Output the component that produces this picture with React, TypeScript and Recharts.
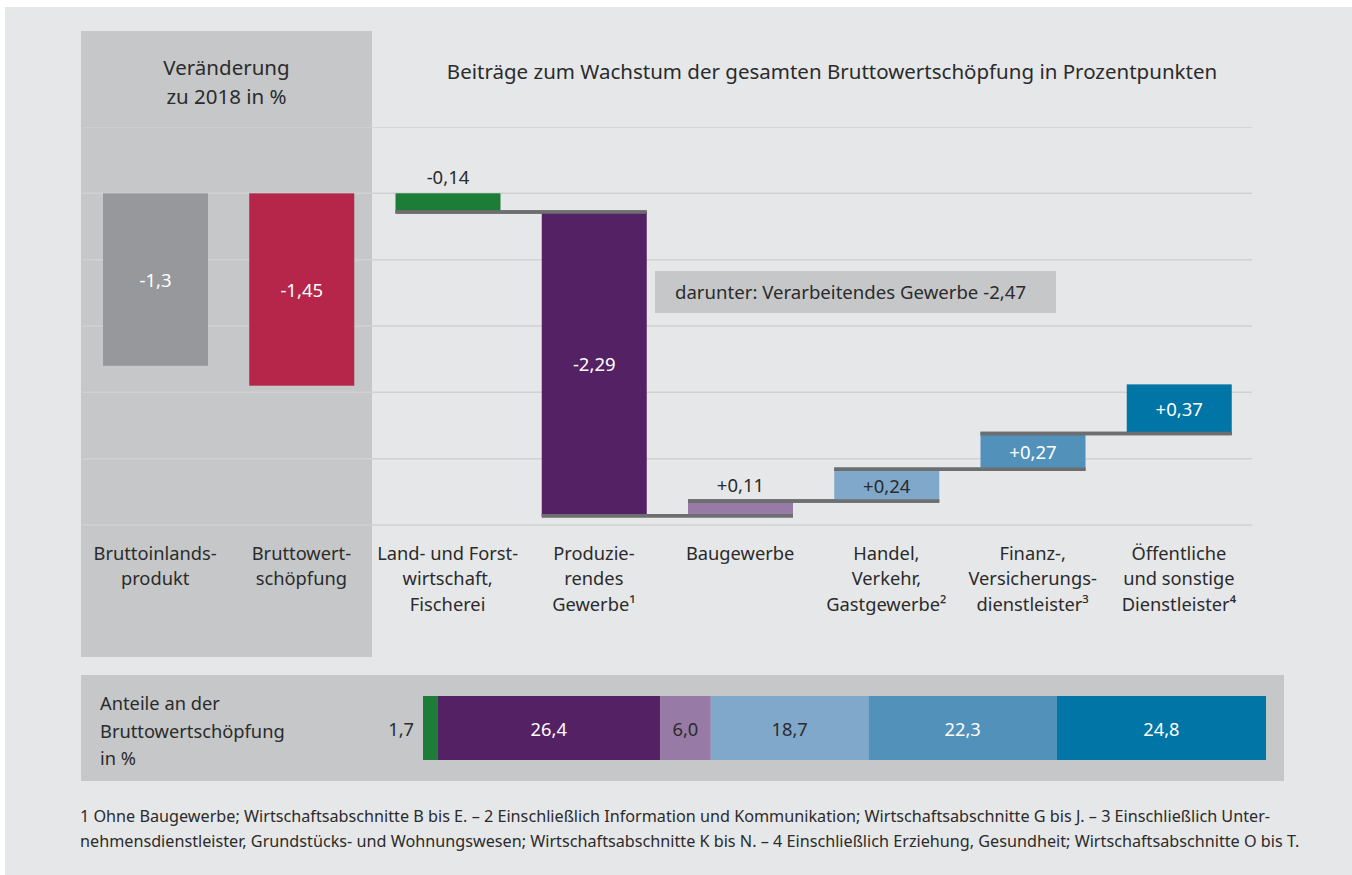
import React from 'react';
import {
  Bar,
  BarChart,
  CartesianGrid,
  ComposedChart,
  LabelList,
  XAxis,
  YAxis,
} from 'recharts';

const categories = [
  'Bruttoinlands-\nprodukt',
  'Bruttowert-\nschöpfung',
  'Land- und Forst-\nwirtschaft,\nFischerei',
  'Produzie-\nrendes\nGewerbe¹',
  'Baugewerbe',
  'Handel,\nVerkehr,\nGastgewerbe²',
  'Finanz-,\nVersicherungs-\ndienstleister³',
  'Öffentliche\nund sonstige\nDienstleister⁴',
];

// Veränderung zu 2018 in % (BIP, BWS)
const totals = [-1.3, -1.45];
// Beiträge zum Wachstum der BWS in Prozentpunkten
const contributions = [-0.14, -2.29, 0.11, 0.24, 0.27, 0.37];
const yTicks = [0.5, 0, -0.5, -1, -1.5, -2, -2.5];

// Anteile an der Bruttowertschöpfung in %
const shareKeys = ['land', 'prod', 'bau', 'handel', 'finanz', 'oeff'];
const shares = [1.7, 26.4, 6.0, 18.7, 22.3, 24.8];

const barColors = [
  '#97989b',
  '#b5264a',
  '#1c7d36',
  '#552165',
  '#977ba6',
  '#80a8cb',
  '#5292ba',
  '#0075a6',
];
const labelColors = ['#fff', '#fff', '#2b2b2b', '#fff', '#2b2b2b', '#2b2b2b', '#fff', '#fff'];
const labelAbove = [false, false, true, false, true, false, false, false];
const shareLabelColors = ['#2b2b2b', '#fff', '#2b2b2b', '#2b2b2b', '#fff', '#fff'];

const FONT = '"Noto Sans", sans-serif';
const TEXT = '#2b2b2b';
const CHART_W = 1170;
const STEP = CHART_W / categories.length;

let level = 0;
const waterfall = categories.map((name, i) => {
  if (i < totals.length) {
    return { name, i, range: [0, totals[i]], delta: totals[i], step: false };
  }
  const d = contributions[i - totals.length];
  const start = level;
  level = +(level + d).toFixed(2);
  return { name, i, range: [start, level], delta: d, step: true };
});

const shareRow: Record<string, any> = { name: 'Anteile' };
shareKeys.forEach((k, i) => (shareRow[k] = shares[i]));
const shareTotal = shares.reduce((a, b) => a + b, 0);

const fmt = (v: number, signed: boolean) =>
  (signed && v > 0 ? '+' : '') + String(v).replace('.', ',');

const WaterfallBar = (props: any) => {
  const { x, y, width, height, payload } = props;
  const i = payload.i;
  const top = Math.min(y, y + height);
  const bottom = Math.max(y, y + height);
  const falling = payload.delta < 0;
  const endY = falling ? bottom : top;
  const startY = falling ? top : bottom;
  const first = i === totals.length;
  const last = i === categories.length - 1;
  const line = { stroke: '#6d6e70', strokeWidth: 3.5 };
  return (
    <g>
      <rect x={x} y={top} width={width} height={bottom - top} fill={barColors[i]} />
      {payload.step && !first && (
        <line x1={x - STEP} x2={x + width} y1={startY} y2={startY} {...line} />
      )}
      {payload.step && !last && (
        <line x1={x} x2={x + width + STEP} y1={endY} y2={endY} {...line} />
      )}
    </g>
  );
};

const WaterfallLabel = (props: any) => {
  const { x, y, width, height, index } = props;
  const row = waterfall[index];
  const top = Math.min(y, y + height);
  const bottom = Math.max(y, y + height);
  const above = labelAbove[index];
  return (
    <text
      x={x + width / 2}
      y={above ? top - 9 : (top + bottom) / 2}
      dominantBaseline={above ? 'auto' : 'central'}
      textAnchor="middle"
      fill={labelColors[index]}
      fontSize={18.5}
      fontFamily={FONT}
    >
      {fmt(row.delta, row.step)}
    </text>
  );
};

const CategoryTick = (props: any) => {
  const { x, y, payload } = props;
  const lines = String(payload.value).split('\n');
  return (
    <text x={x} y={y} textAnchor="middle" fill={TEXT} fontSize={18.3} fontFamily={FONT}>
      {lines.map((l, k) => (
        <tspan key={k} x={x} dy={k === 0 ? 34.5 : 25.5}>
          {l}
        </tspan>
      ))}
    </text>
  );
};

const ShareLabel = (idx: number) => (props: any) => {
  const { x, y, width, height, value } = props;
  const outside = idx === 0;
  return (
    <text
      x={outside ? x - 9 : x + width / 2}
      y={y + height / 2}
      dominantBaseline="central"
      textAnchor={outside ? 'end' : 'middle'}
      fill={shareLabelColors[idx]}
      fontSize={18.3}
      fontFamily={FONT}
    >
      {Number(value).toFixed(1).replace('.', ',')}
    </text>
  );
};

const abs = (left: number, top: number): React.CSSProperties => ({
  position: 'absolute',
  left,
  top,
});

const App: React.FC = () => {
  return (
    <div
      style={{
        position: 'absolute',
        left: 0,
        top: 0,
        width: 1352,
        height: 875,
        background: '#fff',
        fontFamily: FONT,
        color: TEXT,
      }}
    >
      <div style={{ ...abs(5, 7), width: 1347, height: 868, background: '#e6e7e9' }} />
      <div style={{ ...abs(81, 31), width: 291, height: 626, background: '#c6c7c9' }} />

      <div
        style={{
          ...abs(81, 53),
          width: 291,
          textAlign: 'center',
          fontSize: 20.5,
          lineHeight: '29px',
        }}
      >
        Veränderung
        <br />
        zu 2018 in %
      </div>
      <div
        style={{
          ...abs(372, 56),
          width: 920,
          textAlign: 'center',
          fontSize: 20.5,
          lineHeight: '30px',
        }}
      >
        Beiträge zum Wachstum der gesamten Bruttowertschöpfung in Prozentpunkten
      </div>

      <div style={abs(82, 127)}>
        <ComposedChart
          width={CHART_W}
          height={508}
          data={waterfall}
          margin={{ top: 0, right: 0, bottom: 0, left: 0 }}
          barSize={105}
        >
          <CartesianGrid vertical={false} stroke="#d0d1d3" strokeWidth={1.5} />
          <YAxis hide type="number" domain={[-2.5, 0.5]} ticks={yTicks} />
          <XAxis
            dataKey="name"
            height={110}
            axisLine={false}
            tickLine={false}
            tickSize={0}
            tickMargin={0}
            interval={0}
            tick={<CategoryTick />}
          />
          <Bar dataKey="range" shape={<WaterfallBar />} isAnimationActive={false}>
            <LabelList dataKey="range" content={<WaterfallLabel />} />
          </Bar>
        </ComposedChart>
      </div>

      <div
        style={{
          ...abs(655, 271),
          width: 401,
          height: 42,
          background: '#c6c7c9',
          fontSize: 18.6,
          lineHeight: '42px',
          paddingLeft: 20,
          boxSizing: 'border-box',
          whiteSpace: 'nowrap',
        }}
      >
        darunter: Verarbeitendes Gewerbe -2,47
      </div>

      <div style={{ ...abs(81, 675), width: 1203, height: 106, background: '#c6c7c9' }} />
      <div style={{ ...abs(100, 689), fontSize: 18.3, lineHeight: '27.5px' }}>
        Anteile an der
        <br />
        Bruttowertschöpfung
        <br />
        in %
      </div>
      <div style={abs(383, 696)}>
        <BarChart
          width={883}
          height={64}
          data={[shareRow]}
          layout="vertical"
          margin={{ top: 0, right: 0, bottom: 0, left: 40 }}
          barCategoryGap={0}
        >
          <XAxis type="number" hide domain={[0, shareTotal]} />
          <YAxis type="category" dataKey="name" hide />
          {shareKeys.map((k, i) => (
            <Bar
              key={k}
              dataKey={k}
              stackId="s"
              fill={barColors[i + 2]}
              isAnimationActive={false}
            >
              <LabelList dataKey={k} content={ShareLabel(i)} />
            </Bar>
          ))}
        </BarChart>
      </div>

      <div style={{ ...abs(80, 804), fontSize: 16.2, lineHeight: '25px', whiteSpace: 'nowrap' }}>
        1 Ohne Baugewerbe; Wirtschaftsabschnitte B bis E. – 2 Einschließlich Information und
        Kommunikation; Wirtschaftsabschnitte G bis J. – 3 Einschließlich Unter-
        <br />
        nehmensdienstleister, Grundstücks- und Wohnungswesen; Wirtschaftsabschnitte K bis N. – 4
        Einschließlich Erziehung, Gesundheit; Wirtschaftsabschnitte O bis T.
      </div>
    </div>
  );
};

export default App;
